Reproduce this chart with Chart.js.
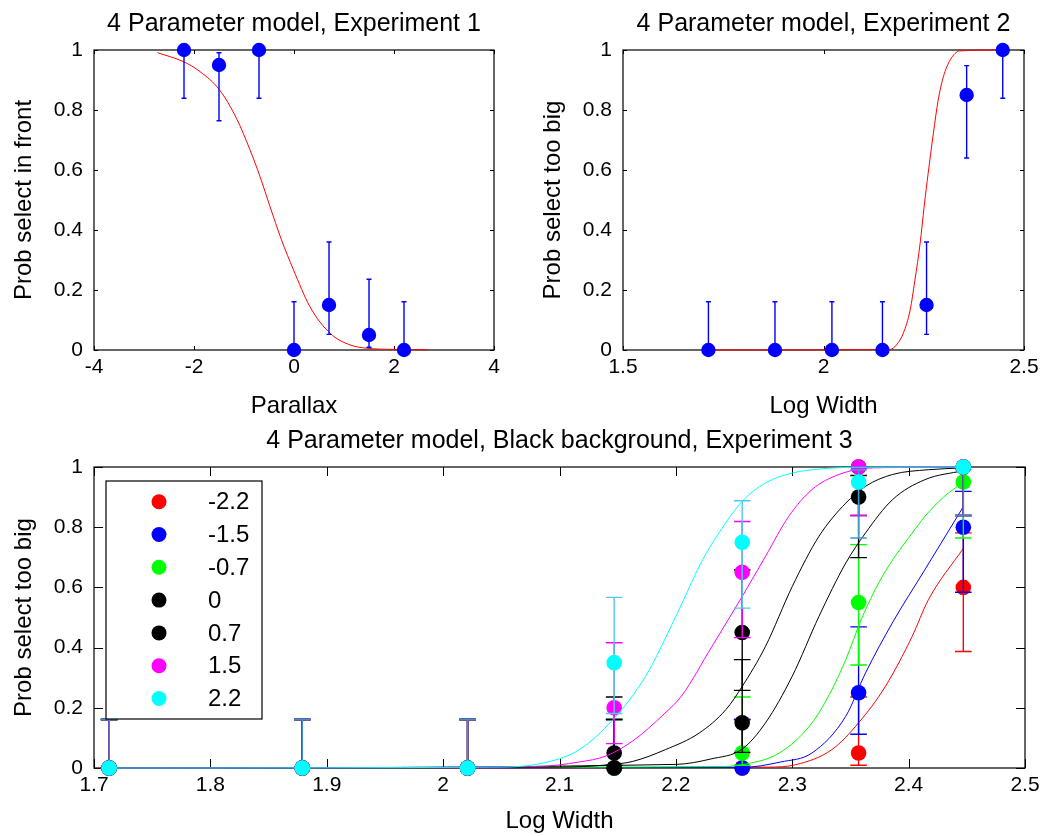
<!DOCTYPE html>
<html>
<head>
<meta charset="utf-8">
<script src="https://cdn.jsdelivr.net/npm/chart.js@4.4.1/dist/chart.umd.min.js"></script>
<style>
  html, body { margin: 0; padding: 0; background: #fff; }
  #wrap { position: relative; width: 1052px; height: 836px; }
  #wrap canvas { position: absolute; left: 0; top: 0; }
</style>
</head>
<body>
<div id="wrap">
  <canvas id="exp1" width="1052" height="836"></canvas>
  <canvas id="exp2" width="1052" height="836"></canvas>
  <canvas id="exp3" width="1052" height="836"></canvas>
</div>
<script>
'use strict';

// Experiment 1 : probability of choosing "in front" per parallax
const parallax = [-2.2, -1.5, -0.7, 0, 0.7, 1.5, 2.2];
const exp1Prob = [1, 0.95, 1, 0, 0.15, 0.05, 0];
const exp1Fit = [
    [-2.73, 0.991], [-2.21, 0.961], [-1.88, 0.928], [-1.49, 0.867], [-1.15, 0.772],
    [-0.88, 0.667], [-0.68, 0.578], [-0.48, 0.478], [-0.25, 0.367], [-0.01, 0.267],
    [0.32, 0.144], [0.72, 0.056], [1.12, 0.017], [1.45, 0.006], [2.0, 0.002], [2.67, 0.001]
];

// Experiment 2 : probability of "too big" per log width
const logWidth = [1.713, 1.879, 2.021, 2.147, 2.257, 2.357, 2.447];
const exp2Prob = [0, 0, 0, 0, 0.15, 0.85, 1];
const exp2Fit = [
    [1.713, 0], [2.166, 0.002], [2.182, 0.017], [2.199, 0.056], [2.216, 0.133],
    [2.228, 0.233], [2.241, 0.356], [2.251, 0.478], [2.261, 0.589], [2.274, 0.722],
    [2.286, 0.833], [2.299, 0.911], [2.316, 0.967], [2.34, 0.997], [2.447, 1]
];

// Experiment 3 : one series per parallax, black background
const exp3Names = ['-2.2', '-1.5', '-0.7', '0', '0.7', '1.5', '2.2'];
const exp3Colors = ['#ff0000', '#0000ff', '#00ff00', '#000000', '#000000', '#ff00ff', '#00ffff'];
const probNeg22 = [0, 0, 0, 0, 0, 0.05, 0.6];
const probNeg15 = [0, 0, 0, 0, 0, 0.25, 0.8];
const probNeg07 = [0, 0, 0, 0, 0.05, 0.55, 0.95];
const probZero = [0, 0, 0, 0, 0.15, 0.9, 1];
const probPos07 = [0, 0, 0, 0.05, 0.45, 1, 1];
const probPos15 = [0, 0, 0, 0.2, 0.65, 1, 1];
const probPos22 = [0, 0, 0, 0.35, 0.75, 0.95, 1];

const fitNeg22 = [[1.713, 0], [2.28, 0.003], [2.303, 0.011], [2.334, 0.061], [2.357, 0.15],
    [2.38, 0.271], [2.403, 0.437], [2.417, 0.559], [2.447, 0.73]];
const fitNeg15 = [[1.713, 0], [2.257, 0.002], [2.29, 0.02], [2.317, 0.05], [2.346, 0.172],
    [2.363, 0.316], [2.386, 0.482], [2.414, 0.659], [2.447, 0.868]];
const fitNeg07 = [[1.713, 0], [2.24, 0.005], [2.257, 0.011], [2.289, 0.05], [2.317, 0.15],
    [2.334, 0.26], [2.346, 0.36], [2.36, 0.5], [2.375, 0.62], [2.386, 0.69], [2.403, 0.78],
    [2.414, 0.836], [2.43, 0.9], [2.447, 0.95]];
const fitZero = [[1.713, 0], [2.2, 0.012], [2.23, 0.03], [2.257, 0.063], [2.277, 0.15],
    [2.3, 0.305], [2.323, 0.504], [2.346, 0.681], [2.363, 0.781], [2.386, 0.891],
    [2.414, 0.958], [2.447, 0.988]];
const fitPos07 = [[1.713, 0], [2.1, 0.003], [2.14, 0.01], [2.163, 0.022], [2.191, 0.061],
    [2.22, 0.116], [2.243, 0.194], [2.257, 0.271], [2.277, 0.404], [2.3, 0.603],
    [2.323, 0.77], [2.346, 0.88], [2.363, 0.936], [2.386, 0.975], [2.417, 0.991], [2.447, 0.997]];
const fitPos15 = [[1.713, 0], [2.08, 0.005], [2.117, 0.02], [2.14, 0.04], [2.163, 0.09],
    [2.19, 0.18], [2.205, 0.24], [2.231, 0.404], [2.257, 0.57], [2.277, 0.703],
    [2.297, 0.836], [2.317, 0.925], [2.34, 0.975], [2.369, 0.997], [2.447, 1]];
const fitPos22 = [[1.713, 0], [2.05, 0.003], [2.09, 0.02], [2.117, 0.061], [2.146, 0.161],
    [2.174, 0.305], [2.2, 0.504], [2.223, 0.692], [2.237, 0.781], [2.257, 0.886],
    [2.277, 0.947], [2.3, 0.98], [2.323, 0.993], [2.354, 0.999], [2.447, 1]];

// 95% binomial intervals for 20 trials, looked up by observed proportion
const ciProb = [0, 0.05, 0.15, 0.2, 0.25, 0.35, 0.45, 0.55, 0.6, 0.65, 0.75, 0.8, 0.85, 0.9, 0.95, 1];
const ciLow = [0, 0.009, 0.052, 0.081, 0.112, 0.181, 0.258, 0.342, 0.387, 0.433, 0.531, 0.584, 0.64, 0.699, 0.764, 0.839];
const ciHigh = [0.161, 0.236, 0.36, 0.416, 0.469, 0.567, 0.658, 0.742, 0.781, 0.819, 0.888, 0.919, 0.948, 0.972, 0.991, 1];

// the cyan bars blend with the ones underneath
const cyanBarColors = ['#3d8ed0', '#3d8ed0', '#3d8ed0', '#55c6f0', '#55c6f0', '#3d9cd0', '#3d8ed0'];

Chart.defaults.font.family = '"Liberation Sans", Arial, sans-serif';
Chart.defaults.color = '#000';

function ciIndex(p) {
    return ciProb.findIndex(v => Math.abs(v - p) < 1e-6);
}

function toPoints(xs, ys) {
    return xs.map((x, i) => ({ x: x, y: ys[i] }));
}

function toCurve(pairs) {
    return pairs.map(p => ({ x: p[0], y: p[1] }));
}

// frame + inward ticks on the four sides, title above the box
const matlabAxes = {
    id: 'matlabAxes',
    beforeDatasetsDraw(chart, args, opts) {
        const { ctx, chartArea: a, scales } = chart;
        const len = opts.tickLength;
        ctx.save();
        ctx.strokeStyle = '#000';
        ctx.lineWidth = 1.2;
        ctx.strokeRect(a.left, a.top, a.right - a.left, a.bottom - a.top);
        ctx.lineWidth = 1;
        ctx.beginPath();
        scales.x.ticks.forEach(t => {
            const px = Math.round(scales.x.getPixelForValue(t.value)) + 0.5;
            ctx.moveTo(px, a.bottom); ctx.lineTo(px, a.bottom - len);
            ctx.moveTo(px, a.top); ctx.lineTo(px, a.top + len);
        });
        scales.y.ticks.forEach(t => {
            const py = Math.round(scales.y.getPixelForValue(t.value)) + 0.5;
            ctx.moveTo(a.left, py); ctx.lineTo(a.left + len, py);
            ctx.moveTo(a.right, py); ctx.lineTo(a.right - len, py);
        });
        ctx.stroke();
        ctx.restore();
    },
    afterDraw(chart, args, opts) {
        const { ctx, chartArea: a } = chart;
        ctx.save();
        ctx.fillStyle = '#000';
        ctx.font = '25px "Liberation Sans", Arial, sans-serif';
        ctx.textAlign = 'center';
        ctx.textBaseline = 'middle';
        ctx.fillText(opts.title, (a.left + a.right) / 2, a.top - 26);
        ctx.restore();
    }
};

// vertical bars with caps, drawn just under each point series
const errorBars = {
    id: 'errorBars',
    beforeDatasetDraw(chart, args) {
        const ds = chart.data.datasets[args.index];
        if (!ds.errLow) return;
        const { ctx, scales } = chart;
        const cap = ds.capWidth;
        ctx.save();
        ctx.lineWidth = ds.errWidth;
        ds.data.forEach((pt, i) => {
            const px = scales.x.getPixelForValue(pt.x);
            const lo = scales.y.getPixelForValue(ds.errLow[i]);
            const hi = scales.y.getPixelForValue(ds.errHigh[i]);
            ctx.strokeStyle = Array.isArray(ds.errColor) ? ds.errColor[i] : ds.errColor;
            ctx.beginPath();
            ctx.moveTo(px, lo); ctx.lineTo(px, hi);
            ctx.moveTo(px - cap, lo); ctx.lineTo(px + cap, lo);
            ctx.moveTo(px - cap, hi); ctx.lineTo(px + cap, hi);
            ctx.stroke();
        });
        ctx.restore();
    }
};

// boxed legend sitting inside the plot area
const boxLegend = {
    id: 'boxLegend',
    afterDatasetsDraw(chart, args, opts) {
        if (!opts.show) return;
        const { ctx, chartArea: a } = chart;
        const left = a.left + 12, top = a.top + 14, w = 156, h = 238;
        ctx.save();
        ctx.fillStyle = '#fff';
        ctx.fillRect(left, top, w, h);
        ctx.strokeStyle = '#000';
        ctx.lineWidth = 1.2;
        ctx.strokeRect(left, top, w, h);
        ctx.font = '24px "Liberation Sans", Arial, sans-serif';
        ctx.textBaseline = 'middle';
        ctx.textAlign = 'left';
        const items = chart.data.datasets.filter(d => d.legendName);
        items.forEach((d, i) => {
            const cy = top + 20.7 + i * 32.8;
            ctx.fillStyle = d.pointBackgroundColor;
            ctx.beginPath();
            ctx.arc(left + 53, cy, 7.5, 0, Math.PI * 2);
            ctx.fill();
            ctx.fillStyle = '#000';
            ctx.fillText(d.legendName, left + 102, cy + 1);
        });
        ctx.restore();
    }
};

function pointSet(xs, ys, color, radius, cap, legendName, barColor) {
    const idx = ys.map(ciIndex);
    return {
        data: toPoints(xs, ys),
        showLine: false,
        pointRadius: radius,
        pointHoverRadius: radius,
        pointBackgroundColor: color,
        pointBorderColor: color,
        pointBorderWidth: 0,
        errLow: idx.map(k => ciLow[k]),
        errHigh: idx.map(k => ciHigh[k]),
        errColor: barColor || color,
        errWidth: 1.4,
        capWidth: cap,
        legendName: legendName,
        clip: false
    };
}

function curveSet(pairs, color) {
    return {
        data: toCurve(pairs),
        showLine: true,
        borderColor: color,
        borderWidth: 1,
        pointRadius: 0,
        pointHoverRadius: 0,
        cubicInterpolationMode: 'monotone',
        fill: false,
        clip: false
    };
}

function tickText(v) {
    return String(+v.toFixed(2));
}

function axes(cfg) {
    return {
        x: {
            type: 'linear',
            min: cfg.xMin, max: cfg.xMax,
            grid: { display: false, drawTicks: false },
            border: { display: false },
            ticks: { stepSize: cfg.xStep, padding: 5, font: { size: 21 }, callback: tickText, maxRotation: 0 },
            title: { display: true, text: cfg.xTitle, font: { size: 24 }, padding: { top: 0, bottom: 0 } },
            afterFit: s => { s.height = cfg.xHeight; }
        },
        y: {
            type: 'linear',
            min: 0, max: 1,
            grid: { display: false, drawTicks: false },
            border: { display: false },
            ticks: { stepSize: 0.2, padding: 11, font: { size: 21 }, callback: tickText },
            title: { display: true, text: cfg.yTitle, font: { size: 24 }, padding: { top: 10, bottom: 0 } },
            afterFit: s => { s.width = 94; }
        }
    };
}

function orderDatasets(list) {
    // first in the list ends up underneath
    list.forEach((d, i) => { d.order = list.length - i; });
    return list;
}

function createPlot(canvasId, datasets, scaleCfg, padding, title, tickLength, legend) {
    const el = document.getElementById(canvasId);
    if (!el) {
        console.error(`Canvas ${canvasId} introuvable.`);
        return;
    }
    new Chart(el.getContext('2d'), {
        type: 'line',
        data: { datasets: orderDatasets(datasets) },
        options: {
            responsive: false,
            maintainAspectRatio: false,
            devicePixelRatio: 1,
            animation: false,
            events: [],
            layout: { padding: padding },
            scales: axes(scaleCfg),
            plugins: {
                legend: { display: false },
                tooltip: { enabled: false },
                matlabAxes: { title: title, tickLength: tickLength },
                boxLegend: { show: legend }
            }
        },
        plugins: [matlabAxes, errorBars, boxLegend]
    });
}

// top left
createPlot('exp1', [
    curveSet(exp1Fit, '#ff0000'),
    pointSet(parallax, exp1Prob, '#0000ff', 7.2, 2.5)
], {
    xMin: -4, xMax: 4, xStep: 2, xHeight: 71,
    xTitle: 'Parallax', yTitle: 'Prob select in front'
}, { left: 0, top: 50, right: 558, bottom: 415 }, '4 Parameter model, Experiment 1', 4, false);

// top right
createPlot('exp2', [
    curveSet(exp2Fit, '#ff0000'),
    pointSet(logWidth, exp2Prob, '#0000ff', 7.2, 2.5)
], {
    xMin: 1.5, xMax: 2.5, xStep: 0.5, xHeight: 71,
    xTitle: 'Log Width', yTitle: 'Prob select too big'
}, { left: 529, top: 50, right: 28, bottom: 415 }, '4 Parameter model, Experiment 2', 4, false);

// bottom
const exp3Probs = [probNeg22, probNeg15, probNeg07, probZero, probPos07, probPos15, probPos22];
const exp3Fits = [fitNeg22, fitNeg15, fitNeg07, fitZero, fitPos07, fitPos15, fitPos22];
const exp3Sets = [];
exp3Names.forEach((name, k) => {
    const barColor = k === 6 ? cyanBarColors : null;
    exp3Sets.push(pointSet(logWidth, exp3Probs[k], exp3Colors[k], 7.8, 8.3, name, barColor));
    exp3Sets.push(curveSet(exp3Fits[k], exp3Colors[k]));
});

createPlot('exp3', exp3Sets, {
    xMin: 1.7, xMax: 2.5, xStep: 0.1, xHeight: 68,
    xTitle: 'Log Width', yTitle: 'Prob select too big'
}, { left: 0, top: 467, right: 27, bottom: 0 }, '4 Parameter model, Black background, Experiment 3', 9, true);
</script>
</body>
</html>
